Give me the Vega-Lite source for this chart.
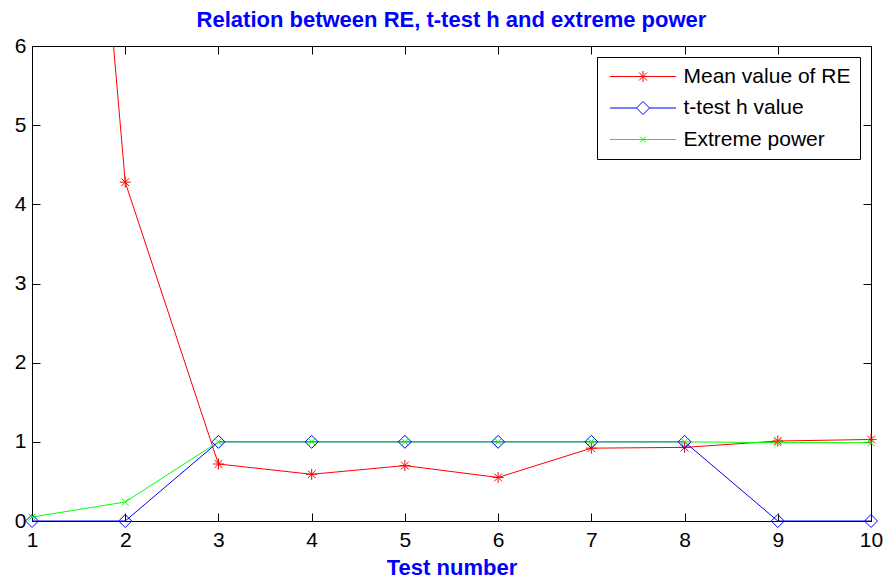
{
  "$schema": "https://vega.github.io/schema/vega-lite/v6.json",
  "autosize": {"type": "none"},
  "width": 839,
  "height": 475,
  "padding": {"left": 32, "top": 46, "right": 13, "bottom": 60},
  "background": "white",
  "title": {
    "text": "Relation between RE, t-test h and extreme power",
    "font": "Liberation Sans",
    "fontSize": 22,
    "fontWeight": "bold",
    "color": "#0000ff",
    "anchor": "middle",
    "offset": 3
  },
  "data": {
    "values": [
      {"test": 1, "series": "Mean value of RE", "value": 18.0},
      {"test": 2, "series": "Mean value of RE", "value": 4.28},
      {"test": 3, "series": "Mean value of RE", "value": 0.72},
      {"test": 4, "series": "Mean value of RE", "value": 0.59},
      {"test": 5, "series": "Mean value of RE", "value": 0.70},
      {"test": 6, "series": "Mean value of RE", "value": 0.55},
      {"test": 7, "series": "Mean value of RE", "value": 0.92},
      {"test": 8, "series": "Mean value of RE", "value": 0.93},
      {"test": 9, "series": "Mean value of RE", "value": 1.01},
      {"test": 10, "series": "Mean value of RE", "value": 1.03},
      {"test": 1, "series": "t-test h value", "value": 0},
      {"test": 2, "series": "t-test h value", "value": 0},
      {"test": 3, "series": "t-test h value", "value": 1},
      {"test": 4, "series": "t-test h value", "value": 1},
      {"test": 5, "series": "t-test h value", "value": 1},
      {"test": 6, "series": "t-test h value", "value": 1},
      {"test": 7, "series": "t-test h value", "value": 1},
      {"test": 8, "series": "t-test h value", "value": 1},
      {"test": 9, "series": "t-test h value", "value": 0},
      {"test": 10, "series": "t-test h value", "value": 0},
      {"test": 1, "series": "Extreme power", "value": 0.05},
      {"test": 2, "series": "Extreme power", "value": 0.24},
      {"test": 3, "series": "Extreme power", "value": 1},
      {"test": 4, "series": "Extreme power", "value": 1},
      {"test": 5, "series": "Extreme power", "value": 1},
      {"test": 6, "series": "Extreme power", "value": 1},
      {"test": 7, "series": "Extreme power", "value": 1},
      {"test": 8, "series": "Extreme power", "value": 1},
      {"test": 9, "series": "Extreme power", "value": 0.99},
      {"test": 10, "series": "Extreme power", "value": 0.99}
    ]
  },
  "layer": [
    {
      "transform": [{"filter": "datum.series === 'Mean value of RE'"}],
      "mark": {"type": "line", "clip": true, "strokeWidth": 1},
      "encoding": {
        "x": {
          "field": "test", "type": "quantitative",
          "scale": {"domain": [1, 10], "nice": false, "zero": false},
          "axis": {"orient": "bottom", "values": [1, 2, 3, 4, 5, 6, 7, 8, 9, 10], "title": "Test number", "labelPadding": 16, "titlePadding": 7, "labelFlush": false}
        },
        "y": {
          "field": "value", "type": "quantitative",
          "scale": {"domain": [0, 6], "nice": false, "zero": false},
          "axis": {"orient": "left", "values": [0, 1, 2, 3, 4, 5, 6], "title": null, "labelPadding": 14, "labelFlush": false}
        },
        "color": {
          "field": "series", "type": "nominal",
          "scale": {"domain": ["Mean value of RE", "t-test h value", "Extreme power"], "range": ["#ff0000", "#0000ff", "#00ff00"]},
          "legend": {
            "orient": "top-right",
            "offset": 11,
            "title": null,
            "padding": 9,
            "fillColor": "white",
            "strokeColor": "black",
            "labelFont": "Liberation Sans",
            "labelFontSize": 21,
            "labelColor": "black",
            "labelLimit": 400,
            "rowPadding": 9.5,
            "symbolOffset": 26.5,
            "labelOffset": 30,
            "symbolSize": 100,
            "symbolStrokeWidth": 1
          }
        }
      }
    },
    {
      "transform": [{"filter": "datum.series !== 'Mean value of RE'"}],
      "mark": {"type": "line", "strokeWidth": 1},
      "encoding": {
        "x": {"field": "test", "type": "quantitative", "axis": null},
        "y": {"field": "value", "type": "quantitative", "axis": null},
        "color": {"field": "series", "type": "nominal"}
      }
    },
    {
      "transform": [{"filter": "datum.series === 'Mean value of RE' && datum.value <= 6"}],
      "mark": {"type": "point", "filled": false, "strokeWidth": 1, "size": 169, "opacity": 1,
               "shape": "M-0.85,0L0.85,0M0,-0.85L0,0.85M-0.6,-0.6L0.6,0.6M-0.6,0.6L0.6,-0.6"},
      "encoding": {
        "x": {
          "field": "test", "type": "quantitative",
          "axis": {"orient": "top", "values": [1, 2, 3, 4, 5, 6, 7, 8, 9, 10], "labels": false, "title": null}
        },
        "y": {
          "field": "value", "type": "quantitative",
          "axis": {"orient": "right", "values": [0, 1, 2, 3, 4, 5, 6], "labels": false, "title": null}
        },
        "color": {"field": "series", "type": "nominal"}
      }
    },
    {
      "transform": [{"filter": "datum.series === 't-test h value'"}],
      "mark": {"type": "point", "filled": false, "strokeWidth": 1, "size": 169, "opacity": 1,
               "shape": "M0,-1L1,0L0,1L-1,0Z"},
      "encoding": {
        "x": {"field": "test", "type": "quantitative", "axis": null},
        "y": {"field": "value", "type": "quantitative", "axis": null},
        "color": {"field": "series", "type": "nominal"}
      }
    },
    {
      "transform": [{"filter": "datum.series === 'Extreme power'"}],
      "mark": {"type": "point", "filled": false, "strokeWidth": 1, "size": 169, "opacity": 1,
               "shape": "M-0.55,-0.55L0.55,0.55M-0.55,0.55L0.55,-0.55"},
      "encoding": {
        "x": {"field": "test", "type": "quantitative", "axis": null},
        "y": {"field": "value", "type": "quantitative", "axis": null},
        "color": {"field": "series", "type": "nominal"}
      }
    },
    {
      "transform": [{"filter": "false"}],
      "mark": {"type": "point", "filled": false, "strokeWidth": 1, "opacity": 1},
      "encoding": {
        "x": {"field": "test", "type": "quantitative", "axis": null},
        "y": {"field": "value", "type": "quantitative", "axis": null},
        "color": {"field": "series", "type": "nominal"},
        "shape": {
          "field": "series", "type": "nominal",
          "scale": {
            "domain": ["Mean value of RE", "t-test h value", "Extreme power"],
            "range": [
              "M-6.6,0L6.6,0M0,-1.1L0,1.1M-0.8,-0.8L0.8,0.8M-0.8,0.8L0.8,-0.8",
              "M-6.6,0L-1.3,0M1.3,0L6.6,0M0,-1.3L1.3,0L0,1.3L-1.3,0Z",
              "M-6.6,0L6.6,0M-0.6,-0.6L0.6,0.6M-0.6,0.6L0.6,-0.6"
            ]
          }
        }
      }
    }
  ],
  "resolve": {"axis": {"x": "independent", "y": "independent"}},
  "config": {
    "view": {"stroke": "black", "strokeWidth": 1},
    "axis": {
      "grid": false,
      "domainColor": "black",
      "domainWidth": 1,
      "tickColor": "black",
      "tickSize": -8,
      "tickWidth": 1,
      "labelFont": "Liberation Sans",
      "labelFontSize": 21,
      "labelColor": "black",
      "titleFont": "Liberation Sans",
      "titleFontSize": 22,
      "titleFontWeight": "bold",
      "titleColor": "#0000ff"
    }
  }
}
